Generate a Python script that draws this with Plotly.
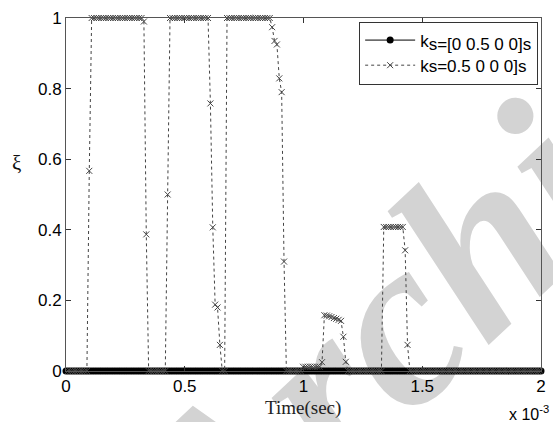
import plotly.graph_objects as go

# Sampling instants of the transient run, in ms (axis carries the x 10^-3 factor)
t_start = 0.008
t_step = 0.01
n_samples = 200
time_ms = [round(t_start + i * t_step, 3) for i in range(n_samples)]

# xi for ks = 0.5 0 0 0]s, one row per 10 samples
xi_half = [
    0, 0, 0, 0, 0, 0, 0, 0, 0, 0.567,
    1, 1, 1, 1, 1, 1, 1, 1, 1, 1,
    1, 1, 1, 1, 1, 1, 1, 1, 1, 1,
    1, 1, 0.99, 0.387, 0, 0, 0, 0, 0, 0,
    0, 0, 0.5, 1, 1, 1, 1, 1, 1, 1,
    1, 1, 1, 1, 1, 1, 1, 1, 1, 1,
    0.758, 0.407, 0.188, 0.18, 0.074, 0, 0, 1, 1, 1,
    1, 1, 1, 1, 1, 1, 1, 1, 1, 1,
    1, 1, 1, 1, 1, 1, 0.974, 0.935, 0.925, 0.829,
    0.79, 0.31, 0, 0, 0, 0, 0, 0, 0, 0.012,
    0.012, 0.012, 0.012, 0.012, 0.012, 0.012, 0.012, 0.025, 0.158, 0.157,
    0.155, 0.153, 0.15, 0.148, 0.145, 0.142, 0.097, 0.026, 0, 0,
    0, 0, 0, 0, 0, 0, 0, 0, 0, 0,
    0, 0, 0, 0.408, 0.408, 0.408, 0.408, 0.408, 0.408, 0.408,
    0.408, 0.408, 0.342, 0.074, 0, 0, 0, 0, 0, 0,
    0, 0, 0, 0, 0, 0, 0, 0, 0, 0,
    0, 0, 0, 0, 0, 0, 0, 0, 0, 0,
    0, 0, 0, 0, 0, 0, 0, 0, 0, 0,
    0, 0, 0, 0, 0, 0, 0, 0, 0, 0,
    0, 0, 0, 0, 0, 0, 0, 0, 0, 0,
]

# Run with ks = [0 0.5 0 0]s: xi never leaves zero
time_ref_ms = [round(i * 0.01, 2) for i in range(201)]
xi_ref = [
    0, 0, 0, 0, 0, 0, 0, 0, 0, 0, 0, 0, 0, 0, 0, 0, 0, 0, 0, 0,
    0, 0, 0, 0, 0, 0, 0, 0, 0, 0, 0, 0, 0, 0, 0, 0, 0, 0, 0, 0,
    0, 0, 0, 0, 0, 0, 0, 0, 0, 0, 0, 0, 0, 0, 0, 0, 0, 0, 0, 0,
    0, 0, 0, 0, 0, 0, 0, 0, 0, 0, 0, 0, 0, 0, 0, 0, 0, 0, 0, 0,
    0, 0, 0, 0, 0, 0, 0, 0, 0, 0, 0, 0, 0, 0, 0, 0, 0, 0, 0, 0,
    0, 0, 0, 0, 0, 0, 0, 0, 0, 0, 0, 0, 0, 0, 0, 0, 0, 0, 0, 0,
    0, 0, 0, 0, 0, 0, 0, 0, 0, 0, 0, 0, 0, 0, 0, 0, 0, 0, 0, 0,
    0, 0, 0, 0, 0, 0, 0, 0, 0, 0, 0, 0, 0, 0, 0, 0, 0, 0, 0, 0,
    0, 0, 0, 0, 0, 0, 0, 0, 0, 0, 0, 0, 0, 0, 0, 0, 0, 0, 0, 0,
    0, 0, 0, 0, 0, 0, 0, 0, 0, 0, 0, 0, 0, 0, 0, 0, 0, 0, 0, 0,
    0,
]

series_names = [
    "k<sub><span style='font-size:17px'>s=[0 0.5 0 0]s</span></sub>",
    "ks=0.5 0 0 0]s",
]

x_ticks = [0, 0.5, 1, 1.5, 2]
x_tick_text = ["0", "0.5", "1", "1.5", "2"]
y_ticks = [0, 0.2, 0.4, 0.6, 0.8, 1]
y_tick_text = ["0", "0.2", "0.4", "0.6", "0.8", "1"]

fig = go.Figure()

fig.add_trace(go.Scatter(
    x=time_ref_ms, y=xi_ref, name=series_names[0],
    mode="lines+markers",
    line=dict(color="black", width=1),
    marker=dict(symbol="circle", size=7, color="black"),
    cliponaxis=False,
))

fig.add_trace(go.Scatter(
    x=time_ms, y=xi_half, name=series_names[1],
    mode="lines+markers",
    line=dict(color="#444444", width=1, dash="dot"),
    marker=dict(symbol="x-thin", size=6, line=dict(color="#444444", width=1)),
    cliponaxis=False,
))

axis_font = dict(family="Liberation Sans, Arial", size=17, color="black")

fig.update_xaxes(
    range=[0, 2], tickvals=x_ticks, ticktext=x_tick_text,
    ticks="inside", ticklen=5, tickcolor="#333", tickwidth=1,
    showline=True, linecolor="#555", linewidth=1, mirror="ticks",
    showgrid=False, zeroline=False, tickfont=axis_font,
)
fig.update_yaxes(
    range=[0, 1], tickvals=y_ticks, ticktext=y_tick_text,
    ticks="inside", ticklen=5, tickcolor="#333", tickwidth=1,
    showline=True, linecolor="#555", linewidth=1, mirror="ticks",
    showgrid=False, zeroline=False, tickfont=axis_font,
)

# faint diagonal watermark behind the traces
fig.add_shape(
    type="line", xref="paper", yref="paper",
    x0=0.465, y0=-0.048, x1=1.073, y1=0.722,
    line=dict(color="rgba(0,0,0,0)", width=0),
    layer="below",
    label=dict(
        text="<b><i>Archive</i></b>", textposition="middle",
        font=dict(family="Liberation Serif", size=240, color="#d3d3d3"),
        xanchor="center", yanchor="middle", padding=0,
    ),
)

fig.add_annotation(
    text="Time(sec)", xref="paper", yref="paper", x=0.498, y=-0.105,
    xanchor="center", yanchor="middle", showarrow=False,
    font=dict(family="Liberation Serif, Times New Roman", size=19, color="#222"),
)
fig.add_annotation(
    text="ξ", xref="paper", yref="paper", x=-0.104, y=0.59,
    xanchor="center", yanchor="middle", showarrow=False,
    font=dict(family="Liberation Serif, Times New Roman", size=21, color="#111"),
)
fig.add_annotation(
    text="x 10<sup>-3</sup>", xref="paper", yref="paper", x=1.02, y=-0.119,
    xanchor="right", yanchor="middle", showarrow=False,
    font=dict(family="Liberation Sans, Arial", size=16, color="black"),
)

fig.update_layout(
    width=553, height=422,
    margin=dict(l=66, r=7, t=18, b=51),
    paper_bgcolor="white", plot_bgcolor="white",
    showlegend=True,
    legend=dict(
        x=0.994, y=0.99, xanchor="right", yanchor="top",
        bgcolor="white", bordercolor="#333", borderwidth=1,
        font=dict(family="Liberation Sans, Arial", size=17, color="black"),
        itemwidth=50, tracegroupgap=0,
    ),
)

fig.write_html("out.html")
